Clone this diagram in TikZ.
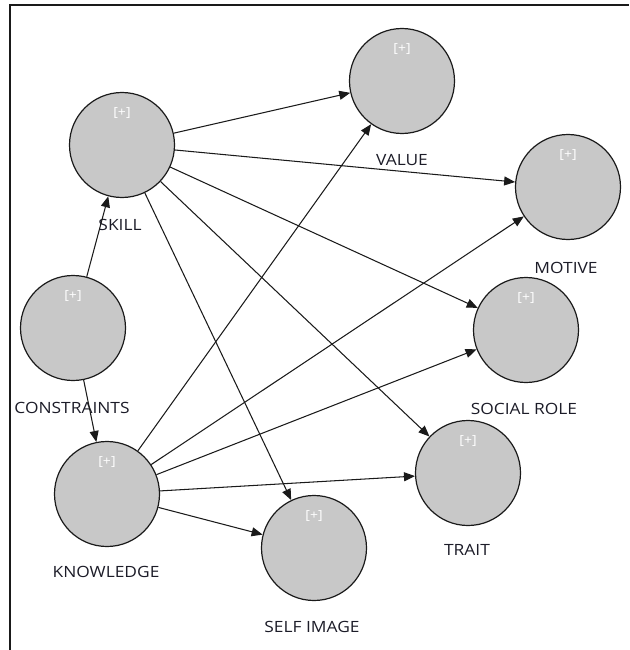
\documentclass[tikz,border=0pt]{standalone}
\usepackage{fontspec}
\setmainfont{Open Sans}
\newfontfamily\labfont[FakeStretch=1.12]{Open Sans}
\usetikzlibrary{arrows.meta}
\definecolor{nodefill}{HTML}{C8C8C8}
\definecolor{edgecol}{HTML}{1A1A1A}
\definecolor{labcol}{HTML}{1C1C28}
\tikzset{
  concept/.style={circle, draw=edgecol, line width=1.2pt, fill=nodefill, minimum size=105pt, inner sep=0pt},
  plus/.style={text=white, font=\labfont\fontsize{12.5}{14}\selectfont, inner sep=0pt},
  lab/.style={text=labcol, font=\labfont\fontsize{15.5}{17}\selectfont, inner sep=0pt},
  link/.style={draw=edgecol, line width=1.05pt, -{Triangle[length=11pt,width=9pt]}},
}
\begin{document}
\begin{tikzpicture}[x=1pt,y=-1pt]
\useasboundingbox (0,0) rectangle (629,650);
% frame
\draw[line width=1.7pt, edgecol] (10,650) -- (10,5) -- (629,5);
% nodes
\node[concept] (skill) at (122,145) {};
\node[concept] (value) at (402,81) {};
\node[concept] (motive) at (568,187) {};
\node[concept] (cons) at (73,328) {};
\node[concept] (social) at (526,330) {};
\node[concept] (know) at (107,494) {};
\node[concept] (trait) at (468,473) {};
\node[concept] (self) at (314,548) {};
% [+] markers
\node[plus] (pskill) at (122,113) {[+]};
\node[plus] (pvalue) at (402,49) {[+]};
\node[plus] (pmotive) at (568,155) {[+]};
\node[plus] (pcons) at (73,296) {[+]};
\node[plus] (psocial) at (526,298) {[+]};
\node[plus] (pknow) at (107,462) {[+]};
\node[plus] (ptrait) at (468,441) {[+]};
\node[plus] (pself) at (314,516) {[+]};
% labels
\node[lab] (lskill) at (120,225) {SKILL};
\node[lab] (lvalue) at (402,160) {VALUE};
\node[lab] (lmotive) at (566,268) {MOTIVE};
\node[lab] (lcons) at (72,408) {CONSTRAINTS};
\node[lab] (lsocial) at (524,409) {SOCIAL ROLE};
\node[lab] (ltrait) at (467,550) {TRAIT};
\node[lab] (lknow) at (106,572) {KNOWLEDGE};
\node[lab] (lself) at (312,627) {SELF IMAGE};
% connectors
\draw[link] (cons) -- (skill);
\draw[link] (cons) -- (know);
\draw[link] (skill) -- (value);
\draw[link] (skill) -- (motive);
\draw[link] (skill) -- (social);
\draw[link] (skill) -- (trait);
\draw[link] (skill) -- (self);
\draw[link] (know) -- (value);
\draw[link] (know) -- (motive);
\draw[link] (know) -- (social);
\draw[link] (know) -- (trait);
\draw[link] (know) -- (self);
\end{tikzpicture}
\end{document}
